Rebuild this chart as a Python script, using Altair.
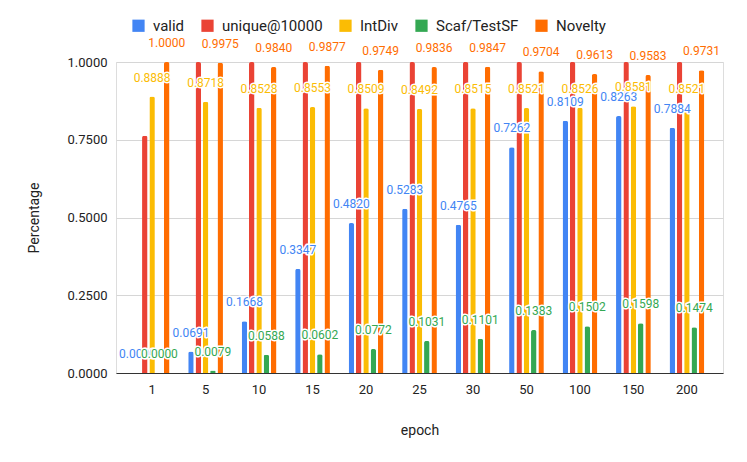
import altair as alt
import pandas as pd

epochs = ["1", "5", "10", "15", "20", "25", "30", "50", "100", "150", "200"]
series = ["valid", "unique@10000", "IntDiv", "Scaf/TestSF", "Novelty"]
colors = ["#4285F4", "#EA4335", "#FBBC04", "#34A853", "#FF6D01"]

valid = [0.0000, 0.0691, 0.1668, 0.3347, 0.4820, 0.5283, 0.4765, 0.7262, 0.8109, 0.8263, 0.7884]
unique = [0.7625, 1.0000, 1.0000, 1.0000, 1.0000, 1.0000, 1.0000, 1.0000, 1.0000, 1.0000, 1.0000]
intdiv = [0.8888, 0.8718, 0.8528, 0.8553, 0.8509, 0.8492, 0.8515, 0.8521, 0.8526, 0.8581, 0.8521]
scaf = [0.0000, 0.0079, 0.0588, 0.0602, 0.0772, 0.1031, 0.1101, 0.1383, 0.1502, 0.1598, 0.1474]
novelty = [1.0000, 0.9975, 0.9840, 0.9877, 0.9749, 0.9836, 0.9847, 0.9704, 0.9613, 0.9583, 0.9731]

values = [valid, unique, intdiv, scaf, novelty]
rows = []
for s, vals in zip(series, values):
    for e, v in zip(epochs, vals):
        rows.append({"epoch": e, "series": s, "value": v})
df = pd.DataFrame(rows)

FONT = "Roboto"

x_enc = alt.X(
    "epoch:N",
    sort=epochs,
    scale=alt.Scale(domain=epochs, paddingInner=0.35, paddingOuter=0.35),
    axis=alt.Axis(
        title="epoch",
        labelAngle=0,
        ticks=False,
        tickSize=0,
        domainColor="#333333",
        domainWidth=1,
        labelPadding=10,
        labelFontSize=13,
        labelColor="#222222",
        titleFontSize=14,
        titleFontWeight="normal",
        titleColor="#222222",
        titlePadding=27,
        labelFont=FONT,
        titleFont=FONT,
    ),
)
xoff_enc = alt.XOffset(
    "series:N", sort=series, scale=alt.Scale(domain=series, paddingInner=0.25)
)
y_enc = alt.Y(
    "value:Q",
    scale=alt.Scale(domain=[0, 1], nice=False),
    axis=alt.Axis(
        title="Percentage",
        values=[0, 0.25, 0.5, 0.75, 1.0],
        format=".4f",
        domain=False,
        ticks=False,
        tickSize=0,
        gridColor="#d6d6d6",
        labelPadding=9,
        labelFontSize=13,
        labelColor="#222222",
        titleFontSize=14,
        titleFontWeight="normal",
        titleColor="#222222",
        titlePadding=26,
        labelFont=FONT,
        titleFont=FONT,
    ),
)
color_scale = alt.Scale(domain=series, range=colors)

bars = alt.Chart(df).mark_bar(cornerRadiusTopLeft=2, cornerRadiusTopRight=2).encode(
    x=x_enc,
    xOffset=xoff_enc,
    y=y_enc,
    color=alt.Color(
        "series:N",
        scale=color_scale,
        sort=series,
        legend=alt.Legend(
            title=None,
            orient="none",
            direction="horizontal",
            legendX=15,
            legendY=-44,
            symbolType="square",
            symbolSize=150,
            symbolStrokeWidth=0,
            labelFontSize=15,
            labelFont=FONT,
            labelColor="#222222",
            labelOffset=7,
            columnPadding=15,
        ),
    ),
)

layers = [bars]
for s in series:
    if s == "unique@10000":
        continue
    sub = df[df["series"] == s]
    base = alt.Chart(sub).encode(
        x=alt.X("epoch:N", sort=epochs),
        xOffset=alt.XOffset("series:N", sort=series),
        y=alt.Y("value:Q"),
        text=alt.Text("value:Q", format=".4f"),
    )
    halo = base.mark_text(
        dy=-19, fontSize=12, font=FONT, stroke="white", strokeWidth=3,
        strokeJoin="round", fill="white", baseline="middle"
    )
    fill = base.mark_text(dy=-19, fontSize=12, font=FONT, baseline="middle").encode(
        color=alt.Color("series:N", scale=color_scale, legend=None)
    )
    layers += [halo, fill]

chart = alt.layer(*layers).properties(
    width=607,
    height=311,
    autosize=alt.AutoSizeParams(type="none"),
    padding={"left": 108, "top": 54, "right": 16, "bottom": 70},
).configure_view(stroke=None).configure(font=FONT)

chart.save("out.html", embed_options={"renderer": "svg", "actions": False})
